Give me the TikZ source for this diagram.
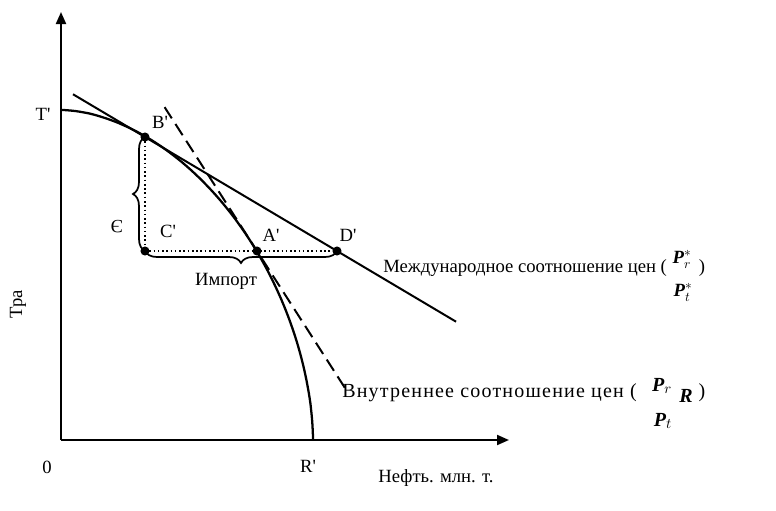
\documentclass[tikz,border=0pt]{standalone}
\usepackage{fontspec}
\setmainfont{Liberation Serif}
\newfontfamily\domfont[LetterSpace=6]{Liberation Serif}
\usepackage{amsmath}
\usetikzlibrary{arrows.meta,calc,decorations.pathreplacing}

\newcommand{\bP}{\text{\textbf{\textit{P}}}}
\tikzset{
  axis/.style={line width=1.5pt,-{Triangle[length=9pt,width=7.5pt]}},
  dotpt/.style={circle,fill=black,inner sep=0pt,minimum size=6.8pt},
  guide/.style={line width=1.2pt,dotted},
  curlyb/.style={line width=1.3pt,decorate,decoration={brace,amplitude=9pt}},
  lbl/.style={inner sep=0.75pt,font=\fontsize{14}{16}\selectfont},
  domlbl/.style={inner sep=0.75pt,font=\fontsize{15}{17}\selectfont}
}

\begin{document}
\begin{tikzpicture}[x=0.75pt,y=0.75pt,yscale=-1,xscale=1]
\useasboundingbox (0,0) rectangle (776,511);

%Points
\coordinate (O) at (61,440);
\coordinate (T) at (61,110);
\coordinate (R) at (313,440);
\coordinate (B) at (145,137);
\coordinate (C) at (145,251);
\coordinate (A) at (257,251);
\coordinate (D) at (337,251);

%Axes
\draw [axis] (O) -- (61,12);
\draw [axis] (O) -- (509,440);

%Transformation curve
\draw [line width=1.7pt] (T) -- plot [domain=89:1,samples=80] ({61+252*pow(cos(\x),1.111)},{440-330*pow(sin(\x),1.111)}) -- (R);

%International price line
\draw [line width=1.5pt] ($(B)!-0.375!(D)$) -- ($(B)!1.62!(D)$);
%Domestic price line
\draw [line width=1.5pt,dash pattern=on 10pt off 5pt] ($(A)!-1.05!(345,388)$) -- ($(A)!1!(345,388)$);

%Dotted guides
\draw [guide] (B) -- (C);
\draw [guide] (C) -- (D);

%Braces
\draw [curlyb] (C) -- (B);
\draw [curlyb] (D) -- (C);

%Dots
\node [dotpt] (nB) at (B) {};
\node [dotpt] (nC) at (C) {};
\node [dotpt] (nA) at (A) {};
\node [dotpt] (nD) at (D) {};

% Text Node
\node [lbl] (lT) at (43,114) {T\textquotesingle};
% Text Node
\node [lbl] (lB) at (160,122) {B\textquotesingle};
% Text Node
\node [lbl] (lC) at (168,231) {C\textquotesingle};
% Text Node
\node [lbl] (lA) at (271,235) {A\textquotesingle};
% Text Node
\node [lbl] (lD) at (348,235) {D\textquotesingle};
% Text Node
\node [lbl] (lR) at (308,466) {R\textquotesingle};
% Text Node
\node [lbl] (lO) at (47,467) {0};
% Text Node
\node [lbl,rotate=180] (lE) at (117,227) {Э};
% Text Node
\node [lbl] (lImp) at (226,281) {Импорт};
% Text Node
\node [lbl,rotate=90] (lTr) at (18,304) {Тра};
% Text Node
\node [lbl] (lOil) at (436,478) {Нефть. млн. т.};
% Text Node
\node [lbl,anchor=west] (lInt) at (382,268) {Международное соотношение цен (};
\node [lbl] (lIntP1) at (682,259) {$\bP_r^{*}$};
\node [lbl] (lIntP2) at (683,292) {$\bP_t^{*}$};
\node [lbl] (lIntQ) at (702,268) {)};
% Text Node
\node [domlbl,anchor=west] (lDom) at (341,393) {\domfont Внутреннее соотношение цен (};
\node [domlbl] (lDomP1) at (662,386) {$\bP_r$};
\node [domlbl] (lDomR) at (686,396) {\textbf{\textit{R}}};
\node [domlbl] (lDomQ) at (702,393) {)};
\node [domlbl] (lDomP2) at (663,421) {$\bP_t$};

\end{tikzpicture}
\end{document}
